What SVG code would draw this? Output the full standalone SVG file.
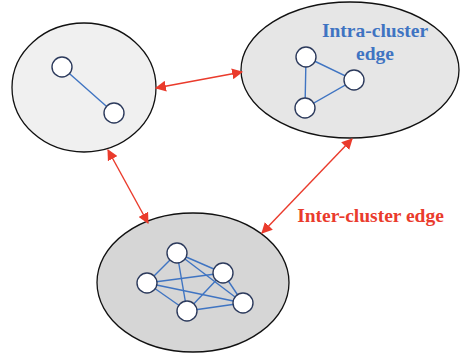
<svg xmlns="http://www.w3.org/2000/svg" width="460" height="358" viewBox="0 0 460 358">
<defs>
<style>
.cluster{stroke:#111;stroke-width:1.3}
.node{fill:#fff;stroke:#2c3a5c;stroke-width:1.4}
.edge{stroke:#3f74c2;stroke-width:1.4;fill:none}
.inter{stroke:#ea3b2c;stroke-width:1.4;fill:none;marker-start:url(#ah);marker-end:url(#ah)}
.lbl{font-family:"Liberation Serif",serif;font-weight:bold;font-size:19.5px;text-anchor:middle}
</style>
<marker id="ah" viewBox="0 0 10 10" refX="9" refY="5" markerWidth="11" markerHeight="11" markerUnits="userSpaceOnUse" orient="auto-start-reverse">
<path d="M0,0 L10,5 L0,10 z" fill="#ea3b2c"/>
</marker>
</defs>
<rect width="460" height="358" fill="#fff"/>
<g id="cluster1">
<ellipse class="cluster" cx="84" cy="87.5" rx="72" ry="64.5" fill="#f0f0f0"/>
<line class="edge" x1="62" y1="67" x2="114" y2="113"/>
<circle class="node" cx="62" cy="67" r="10"/>
<circle class="node" cx="114" cy="113" r="10"/>
</g>
<g id="cluster2">
<ellipse class="cluster" cx="350" cy="70" rx="109" ry="68" fill="#e6e6e6"/>
<path class="edge" d="M306,57 L354,80 L305,108 Z"/>
<circle class="node" cx="306" cy="57" r="10"/>
<circle class="node" cx="354" cy="80" r="10"/>
<circle class="node" cx="305" cy="108" r="10"/>
<text class="lbl" x="375" y="37" fill="#3f74c2">Intra-cluster</text>
<text class="lbl" x="375" y="60" fill="#3f74c2">edge</text>
</g>
<g id="cluster3">
<ellipse class="cluster" cx="193" cy="282.5" rx="96" ry="69.5" fill="#d6d6d6"/>
<g class="edge">
<line x1="177" y1="253" x2="223" y2="273"/>
<line x1="177" y1="253" x2="147" y2="283"/>
<line x1="177" y1="253" x2="187" y2="311"/>
<line x1="177" y1="253" x2="243" y2="303"/>
<line x1="147" y1="283" x2="223" y2="273"/>
<line x1="147" y1="283" x2="243" y2="303"/>
<line x1="147" y1="283" x2="187" y2="311"/>
<line x1="223" y1="273" x2="187" y2="311"/>
<line x1="223" y1="273" x2="243" y2="303"/>
<line x1="187" y1="311" x2="243" y2="303"/>
</g>
<circle class="node" cx="177" cy="253" r="10"/>
<circle class="node" cx="223" cy="273" r="10"/>
<circle class="node" cx="147" cy="283" r="10"/>
<circle class="node" cx="243" cy="303" r="10"/>
<circle class="node" cx="187" cy="311" r="10"/>
</g>
<g id="connectors">
<line class="inter" x1="156" y1="88" x2="242" y2="72"/>
<line class="inter" x1="108" y1="150" x2="148" y2="223"/>
<line class="inter" x1="352" y1="139" x2="262" y2="233"/>
<text class="lbl" x="370.5" y="222" fill="#ea3b2c">Inter-cluster edge</text>
</g>
</svg>
